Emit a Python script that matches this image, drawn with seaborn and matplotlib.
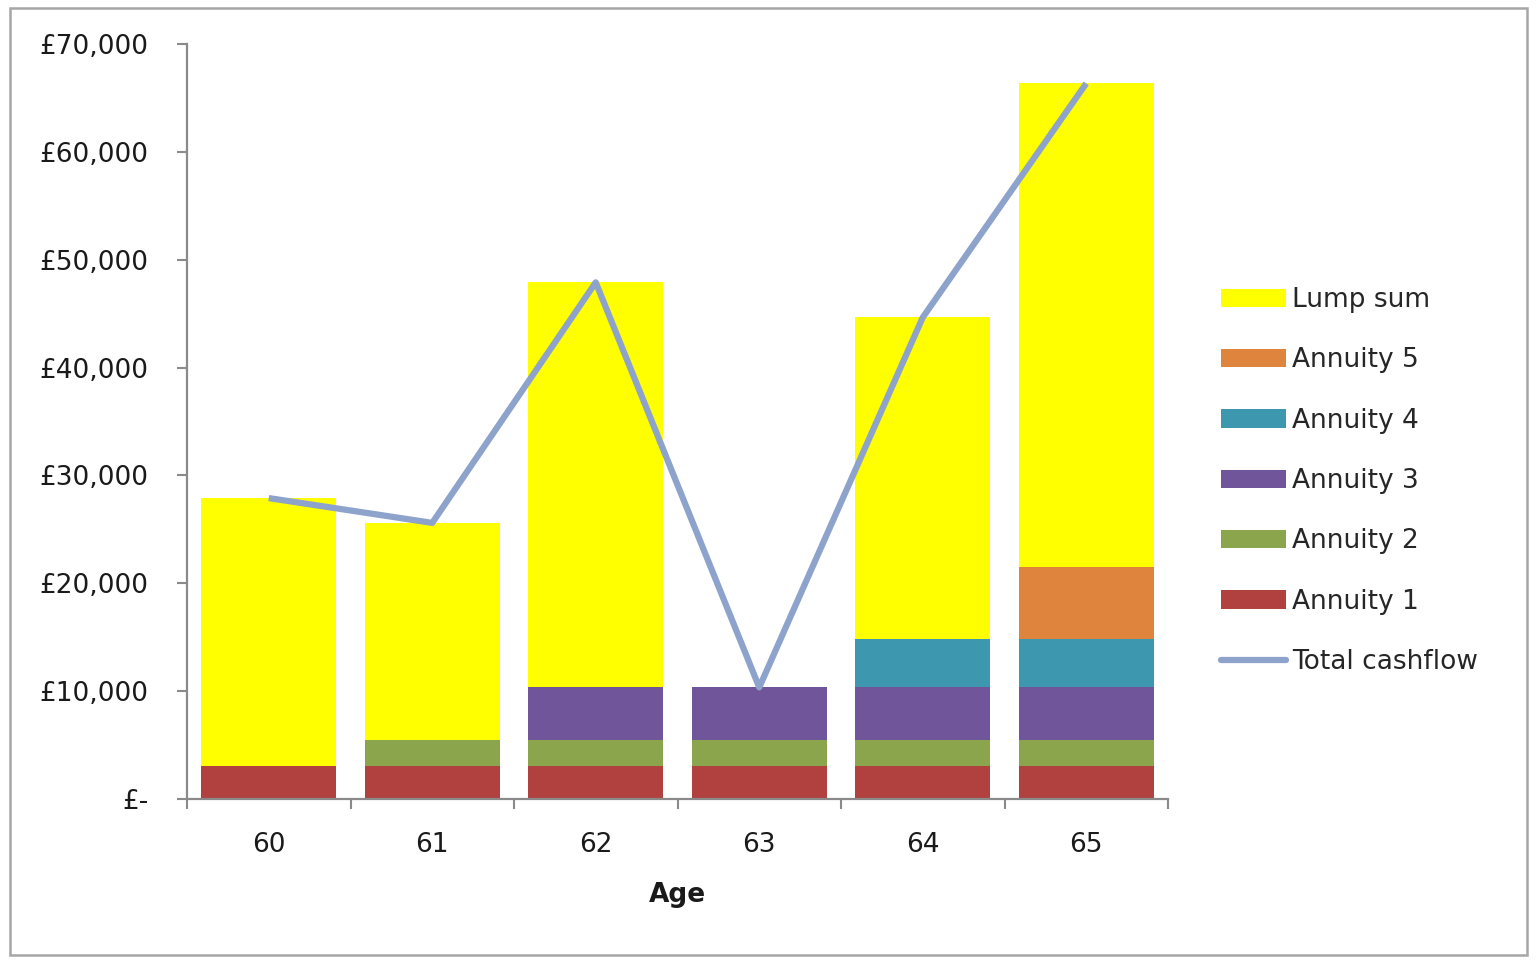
import numpy as np
import pandas as pd
import matplotlib
matplotlib.use("Agg")
import matplotlib.pyplot as plt
from matplotlib.patches import Rectangle, Patch
from matplotlib.lines import Line2D
import seaborn as sns

ages = ["60", "61", "62", "63", "64", "65"]
annuity1 = [3100, 3100, 3100, 3100, 3100, 3100]
annuity2 = [0, 2400, 2400, 2400, 2400, 2400]
annuity3 = [0, 0, 4850, 4850, 4850, 4850]
annuity4 = [0, 0, 0, 0, 4450, 4450]
annuity5 = [0, 0, 0, 0, 0, 6750]
lump_sum = [24800, 20100, 37550, 0, 29850, 44800]

series_names = ["Annuity 1", "Annuity 2", "Annuity 3", "Annuity 4", "Annuity 5", "Lump sum"]
series_vals = [annuity1, annuity2, annuity3, annuity4, annuity5, lump_sum]
colors = {"Annuity 1": "#B0413E", "Annuity 2": "#8BA54C", "Annuity 3": "#71559A",
          "Annuity 4": "#3D97AF", "Annuity 5": "#DE843D", "Lump sum": "#FFFF00"}
line_color = "#8DA3CC"

y_ticks = [0, 10000, 20000, 30000, 40000, 50000, 60000, 70000]

sns.set_theme(style="white")
plt.rcParams['font.family'] = ['DejaVu Sans']

fig = plt.figure(figsize=(15.36, 9.64), dpi=100)
ax = fig.add_axes([187/1536, 1 - 799/964, (1168-187)/1536, (799-44)/964])

cum = np.cumsum(np.array(series_vals, dtype=float), axis=0)
df = pd.DataFrame({"Age": ages})
# draw from the tallest cumulative layer down so each layer shows
for i in range(len(series_names) - 1, -1, -1):
    df["val"] = cum[i]
    sns.barplot(data=df, x="Age", y="val", color=colors[series_names[i]],
                width=0.826, saturation=1, ax=ax, linewidth=0, zorder=2 + (6 - i) * 0.01)

total = cum[-1]
sns.lineplot(x=np.arange(len(ages)), y=total, color=line_color, linewidth=4.5,
             ax=ax, zorder=5, solid_capstyle="butt")

ax.set_xlim(-0.5, len(ages) - 0.5)
ax.set_ylim(0, 70000)
ax.set_yticks(y_ticks)
ax.set_yticklabels(["£-" if v == 0 else f"£{v:,}" for v in y_ticks])
ax.set_xticks(np.arange(len(ages)))
ax.set_xticklabels(ages)
ax.set_xticks(np.arange(len(ages) + 1) - 0.5, minor=True)

for s in ["top", "right"]:
    ax.spines[s].set_visible(False)
for s in ["left", "bottom"]:
    ax.spines[s].set_color("#8A8A8A")
    ax.spines[s].set_linewidth(1.6)

ax.tick_params(axis="y", which="major", direction="out", length=7, width=1.5,
               color="#8A8A8A", labelsize=19, pad=20.5, left=True, labelcolor="#1a1a1a")
ax.tick_params(axis="x", which="major", length=0, labelsize=19, pad=24, labelcolor="#1a1a1a")
ax.tick_params(axis="x", which="minor", direction="out", length=7, width=1.5,
               color="#8A8A8A", bottom=True)
ax.set_xlabel("Age", fontsize=19, fontweight="bold", labelpad=17, color="#1a1a1a")
ax.set_ylabel("")

handles = [Patch(facecolor=colors[n], edgecolor="none") for n in
           ["Lump sum", "Annuity 5", "Annuity 4", "Annuity 3", "Annuity 2", "Annuity 1"]]
handles.append(Line2D([0], [0], color=line_color, linewidth=4.5))
labels = ["Lump sum", "Annuity 5", "Annuity 4", "Annuity 3", "Annuity 2", "Annuity 1", "Total cashflow"]
fig.legend(handles, labels, loc="center left", bbox_to_anchor=(1221/1536, 1 - 481/964),
           frameon=False, fontsize=19, handlelength=2.45, handleheight=0.7,
           labelspacing=1.3, handletextpad=0.25, borderaxespad=0, borderpad=0)

fig.patches.append(Rectangle((10/1536, 1 - 955/964), (1527-10)/1536, (955-8)/964,
                             transform=fig.transFigure, fill=False,
                             edgecolor="#A6A6A6", linewidth=1.8))

fig.savefig("out.png", dpi=100)
